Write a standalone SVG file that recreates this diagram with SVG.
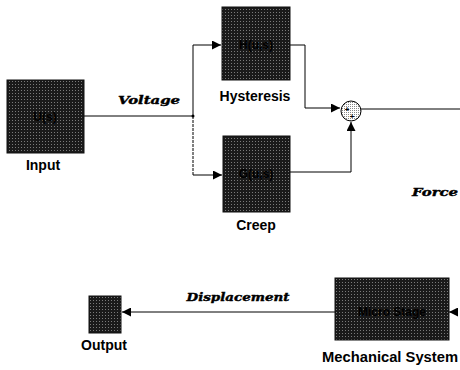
<svg xmlns="http://www.w3.org/2000/svg" width="460" height="370" viewBox="0 0 460 370">
<style>
.blk{fill:url(#stip);stroke:#111;stroke-width:1}
.in{font-family:"Liberation Sans",Arial,sans-serif;font-weight:bold;font-size:12px;fill:#000;text-anchor:middle}
.lbl{font-family:"Liberation Sans",Arial,sans-serif;font-weight:bold;font-size:14px;fill:#000;text-anchor:middle}
.sig{font-family:"DejaVu Serif","Liberation Serif",serif;font-weight:bold;font-style:italic;font-size:11px;fill:#000;stroke:#000;stroke-width:0.4;text-anchor:middle}
.ln{fill:none;stroke:#000;stroke-width:1}
.dash{fill:none;stroke:#000;stroke-width:1;stroke-dasharray:3 1}
</style>
<defs>
<pattern id="stip" width="3" height="3" patternUnits="userSpaceOnUse">
<rect width="3" height="3" fill="#1a1a1a"/>
<rect width="1" height="1" fill="#7a7a7a"/>
</pattern>
<pattern id="lstip" width="2" height="2" patternUnits="userSpaceOnUse">
<rect width="2" height="2" fill="#fff"/>
<rect width="1" height="1" fill="#888"/>
</pattern>
<marker id="arr" viewBox="0 0 10 10" refX="10" refY="5" markerWidth="9" markerHeight="9" markerUnits="userSpaceOnUse" orient="auto">
<path d="M0,0 L10,5 L0,10 z" fill="#000"/>
</marker>
</defs>
<rect width="460" height="370" fill="#fff"/>
<g id="connectors">
<path class="ln" d="M84,116 H193"/>
<circle cx="193" cy="116" r="1.5" fill="#000"/>
<path class="ln" d="M193,116 V45 H221" marker-end="url(#arr)"/>
<path class="dash" d="M193,116 V175"/>
<path class="ln" d="M193,175 H222" marker-end="url(#arr)"/>
<path class="ln" d="M290,45 H305 V108 H340" marker-end="url(#arr)"/>
<path class="ln" d="M290,172 H351 V122" marker-end="url(#arr)"/>
<path class="ln" d="M361,109 H460"/>
<path class="ln" d="M458,312 H449" marker-end="url(#arr)"/>
<path class="ln" d="M335,312 H122" marker-end="url(#arr)"/>
</g>
<g id="input">
<rect class="blk" x="7" y="80" width="77" height="73"/>
<text class="in" x="45" y="121">U(s)</text>
<text class="lbl" x="43" y="170">Input</text>
</g>
<g id="hysteresis">
<rect class="blk" x="222" y="7" width="68" height="73"/>
<text class="in" x="256" y="49">H(u,s)</text>
<text class="lbl" x="255" y="101">Hysteresis</text>
</g>
<g id="creep">
<rect class="blk" x="223" y="136" width="67" height="76"/>
<text class="in" x="256" y="178">G(u,s)</text>
<text class="lbl" x="256" y="230">Creep</text>
</g>
<g id="sum">
<circle cx="351" cy="111" r="10" fill="url(#lstip)" stroke="#000" stroke-width="1"/>
<text x="347" y="112" font-family="Liberation Sans,Arial,sans-serif" font-size="8" font-weight="bold" text-anchor="middle">+</text>
<text x="352" y="119" font-family="Liberation Sans,Arial,sans-serif" font-size="8" font-weight="bold" text-anchor="middle">+</text>
</g>
<g id="mechanical">
<rect class="blk" x="335" y="278" width="114" height="62"/>
<text class="in" x="392" y="316">Micro Stage</text>
<text class="lbl" x="390" y="362" textLength="136" lengthAdjust="spacingAndGlyphs">Mechanical System</text>
</g>
<g id="output">
<rect class="blk" x="89" y="296" width="32" height="37"/>
<text class="lbl" x="104" y="350">Output</text>
</g>
<g id="labels">
<text class="sig" x="149" y="104" textLength="62" lengthAdjust="spacingAndGlyphs">Voltage</text>
<text class="sig" x="435" y="196" textLength="46" lengthAdjust="spacingAndGlyphs">Force</text>
<text class="sig" x="238" y="301" textLength="103" lengthAdjust="spacingAndGlyphs">Displacement</text>
</g>
</svg>
